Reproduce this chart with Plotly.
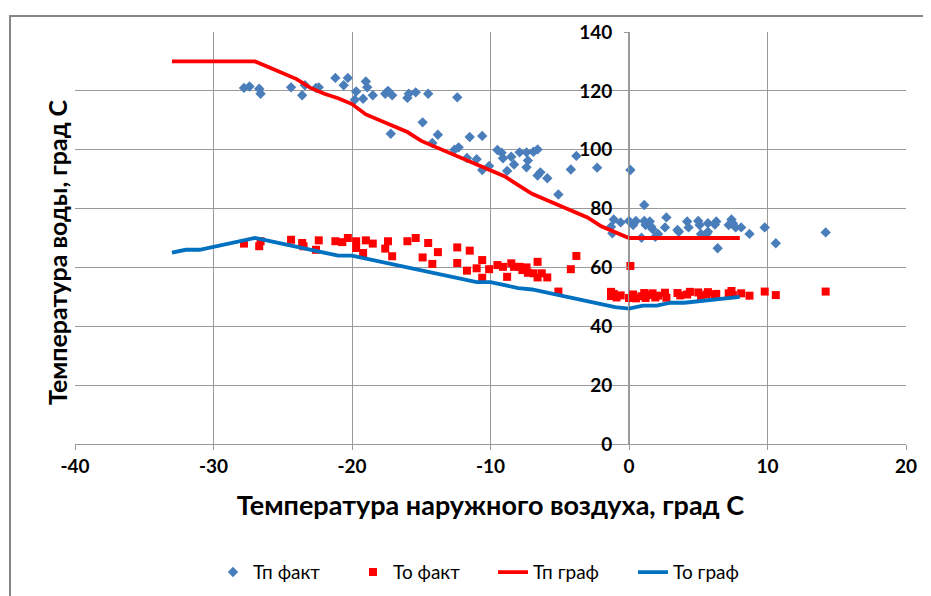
import plotly.graph_objects as go

# Тп график (red line)
tp_graf_x = [-33, -27, -26, -25, -24, -23, -22, -21, -20, -19, -18, -17, -16, -15, -14, -13, -12, -11, -10,
             -9, -8, -7, -6, -5, -4, -3, -2, -1, 0, 1, 2, 3, 4, 5, 6, 7, 8]
tp_graf_y = [130, 130, 128, 126, 124, 121, 119, 117.5, 115.5, 112, 110, 108, 106, 103, 101, 99, 97, 95, 93,
             91, 88, 85, 83, 81, 79, 77, 74, 72, 70, 70, 70, 70, 70, 70, 70, 70, 70]

# То график (blue line)
to_graf_x = [-33, -32, -31, -30, -29, -28, -27, -26, -25, -24, -23, -22, -21, -20, -19, -18, -17, -16, -15,
             -14, -13, -12, -11, -10, -9, -8, -7, -6, -5, -4, -3, -2, -1, 0, 1, 2, 3, 4, 5, 6, 7, 8]
to_graf_y = [65, 66, 66, 67, 68, 69, 70, 69, 68, 67, 66, 65, 64, 64, 63, 62, 61, 60, 59,
             58, 57, 56, 55, 55, 54, 53, 52.5, 51.5, 50.5, 49.5, 48.5, 47.5, 46.5, 46, 47, 47, 48, 48, 48.5, 49, 49.5, 50]

# Тп факт (blue diamonds)
tp_fakt_x = [-27.8, -27.4, -26.7, -26.6, -24.4, -23.6, -23.4, -22.6, -22.4, -21.2, -20.6, -20.3, -19.7, -19.8,
             -19.2, -19.0, -18.9, -18.5, -17.6, -17.4, -17.1, -17.2, -16.0, -15.9, -15.4, -14.5, -14.9, -14.2,
             -13.8, -12.4, -12.6, -12.3, -11.7, -11.5, -10.6, -11.0, -10.6, -10.1, -9.5, -9.2, -9.1, -8.5, -8.3,
             -8.8, -7.9, -7.4, -7.3, -7.4, -6.9, -6.6, -6.6, -6.4, -5.9, -5.1, -4.2, -3.8, -2.3, 0.1, 1.1, -1.1,
             -1.3, -1.2, -0.6, 0.0, 0.3, 0.5, 0.9, 1.1, 1.2, 1.5, 1.6, 1.7, 1.9, 2.1, 2.7, 2.6, 3.5, 3.6, 4.2,
             4.3, 5.0, 5.1, 5.2, 5.6, 5.7, 5.7, 6.2, 6.3, 6.4, 7.2, 7.4, 7.5, 7.7, 8.1, 8.7, 9.8, 10.6, 14.2]
tp_fakt_y = [121, 121.5, 120.7, 119, 121.2, 118.5, 121.9, 121, 121.2, 124.4, 121.9, 124.4, 119.8, 117,
             117.3, 123.2, 121.2, 118.5, 119, 120, 118.5, 105.4, 117.6, 119, 119.5, 119, 109.3, 102.3,
             105.1, 117.8, 100, 100.8, 97.2, 104.3, 104.7, 96.8, 93.1, 94.5, 99.9, 99, 97.1, 97.6, 95,
             92.8, 99.1, 99.1, 96.3, 94, 99.3, 100.1, 91.2, 92.3, 90.3, 84.8, 93.3, 97.9, 93.9, 93.1, 81.2, 76.3,
             73.8, 71.6, 75.3, 75.8, 74.4, 75.8, 70.1, 75.8, 74.4, 75.6, 73.8, 73, 70.4, 71.4, 77, 73.6, 72.7, 72.1, 75.6,
             73.6, 75.8, 74.4, 71.4, 71.4, 75, 72.1, 74.6, 75.6, 66.5, 74.4, 76.3, 75, 73.6, 73.6, 71.4, 73.6, 68.2, 71.9]

# То факт (red squares)
to_fakt_x = [-27.8, -26.6, -26.7, -24.4, -23.6, -23.5, -22.4, -22.6, -21.2, -20.7, -20.3, -19.7, -19.7, -19.2,
             -19.0, -18.5, -17.4, -17.6, -17.1, -16.0, -15.4, -14.5, -13.8, -14.9, -14.2, -12.4, -12.4, -11.5,
             -11.7, -11.0, -10.6, -10.6, -10.1, -9.5, -9.1, -8.8, -8.5, -8.3, -7.9, -7.7, -7.4, -7.3, -6.6, -6.9,
             -6.6, -6.3, -5.9, -5.1, -4.2, -3.8, 0.1,
             -1.3, -1.3, -1.1, -0.9, -0.6, 0.0, 0.3, 0.5, 0.9, 1.1, 1.2, 1.5, 1.7, 1.9, 2.1, 2.6, 2.7, 3.5, 3.7,
             4.2, 4.4, 5.0, 5.2, 5.6, 5.7, 6.2, 6.3, 7.2, 7.4, 7.5, 8.1, 8.7, 9.8, 10.6, 14.2]
to_fakt_y = [68.1, 68.9, 67.2, 69.4, 68.3, 67.2, 69.2, 66, 68.9, 68.6, 70, 68.9, 66.6, 64.9,
             69.2, 68.1, 68.9, 66.4, 63.8, 68.9, 70, 68.3, 65.2, 63.4, 61.2, 66.8, 61.5, 65.7,
             58.9, 59.7, 62.5, 56.5, 59.4, 60.8, 60.2, 56.8, 61.4, 60.2, 60.2, 59.1, 60, 58.2, 61.9, 58,
             56.6, 58, 56.6, 51.8, 59.4, 63.9, 60.5,
             51.7, 50.3, 51, 49.8, 50.5, 49.6, 50.8, 49.5, 50.2, 51.3, 49.6, 50.6, 51.2, 49.8, 50.4, 51.4, 49.7, 51.3, 50.5,
             50.8, 51.7, 51.5, 50.3, 50.8, 51.6, 50.6, 51, 51.2, 52, 50.6, 51.2, 50.4, 51.8, 50.6, 51.8]

x_tickvals = [-40, -30, -20, -10, 0, 10, 20]
x_ticktext = ["-40", "-30", "-20", "-10", "0", "10", "20"]
y_tickvals = [0, 20, 40, 60, 80, 100, 120, 140]

FONT = "Lato, sans-serif"
GRID = "#9a9a9a"

fig = go.Figure()
fig.add_trace(go.Scatter(x=tp_fakt_x, y=tp_fakt_y, mode="markers", name="Тп факт",
                         marker=dict(symbol="diamond", size=8, color="#4a7ebb")))
fig.add_trace(go.Scatter(x=to_fakt_x, y=to_fakt_y, mode="markers", name="То факт",
                         marker=dict(symbol="square", size=8, color="#ff0000")))
fig.add_trace(go.Scatter(x=tp_graf_x, y=tp_graf_y, mode="lines", name="Тп граф",
                         line=dict(color="#ff0000", width=3.8)))
fig.add_trace(go.Scatter(x=to_graf_x, y=to_graf_y, mode="lines", name="То граф",
                         line=dict(color="#0070c0", width=3.8)))

fig.update_layout(
    width=931, height=596,
    margin=dict(l=67, r=33, t=24, b=160, autoexpand=False),
    paper_bgcolor="white", plot_bgcolor="white",
    font=dict(family=FONT, color="black"),
    showlegend=True,
    legend=dict(orientation="h", x=0.503, xanchor="center", y=-0.265, yanchor="top",
                font=dict(size=19, family=FONT), entrywidth=95, tracegroupgap=0),
    xaxis=dict(range=[-40, 20], tickvals=x_tickvals, ticktext=x_ticktext,
               showgrid=True, gridcolor=GRID, gridwidth=1,
               showline=True, linecolor=GRID, linewidth=1,
               ticks="outside", ticklen=5, tickcolor=GRID,
               zeroline=False, automargin=False,
               tickfont=dict(size=19, family=FONT, color="black", weight="bold"),
               title=dict(text="Температура наружного воздуха, град С",
                          font=dict(size=27, family=FONT, color="black", weight="bold"),
                          standoff=20)),
    yaxis=dict(range=[0, 140], tickvals=y_tickvals,
               anchor="free", position=553 / 831,
               showgrid=True, gridcolor=GRID, gridwidth=1,
               showline=True, linecolor=GRID, linewidth=1,
               ticks="outside", ticklen=4, tickcolor=GRID, ticklabelstandoff=8,
               zeroline=False, automargin=False,
               tickfont=dict(size=19, family=FONT, color="black", weight="bold")),
    annotations=[dict(text="Температура воды, град С", textangle=-90,
                      xref="paper", yref="paper", x=(49 - 67) / 831, y=0.466,
                      xanchor="center", yanchor="middle", showarrow=False,
                      font=dict(size=25, family=FONT, color="black", weight="bold"))],
    shapes=[dict(type="rect", xref="paper", yref="paper",
                 x0=(2 - 67) / 831, x1=1.3, y0=-0.6, y1=(436 - 8) / 412,
                 line=dict(color="#868686", width=2), layer="below")],
)

fig.write_html("out.html")
